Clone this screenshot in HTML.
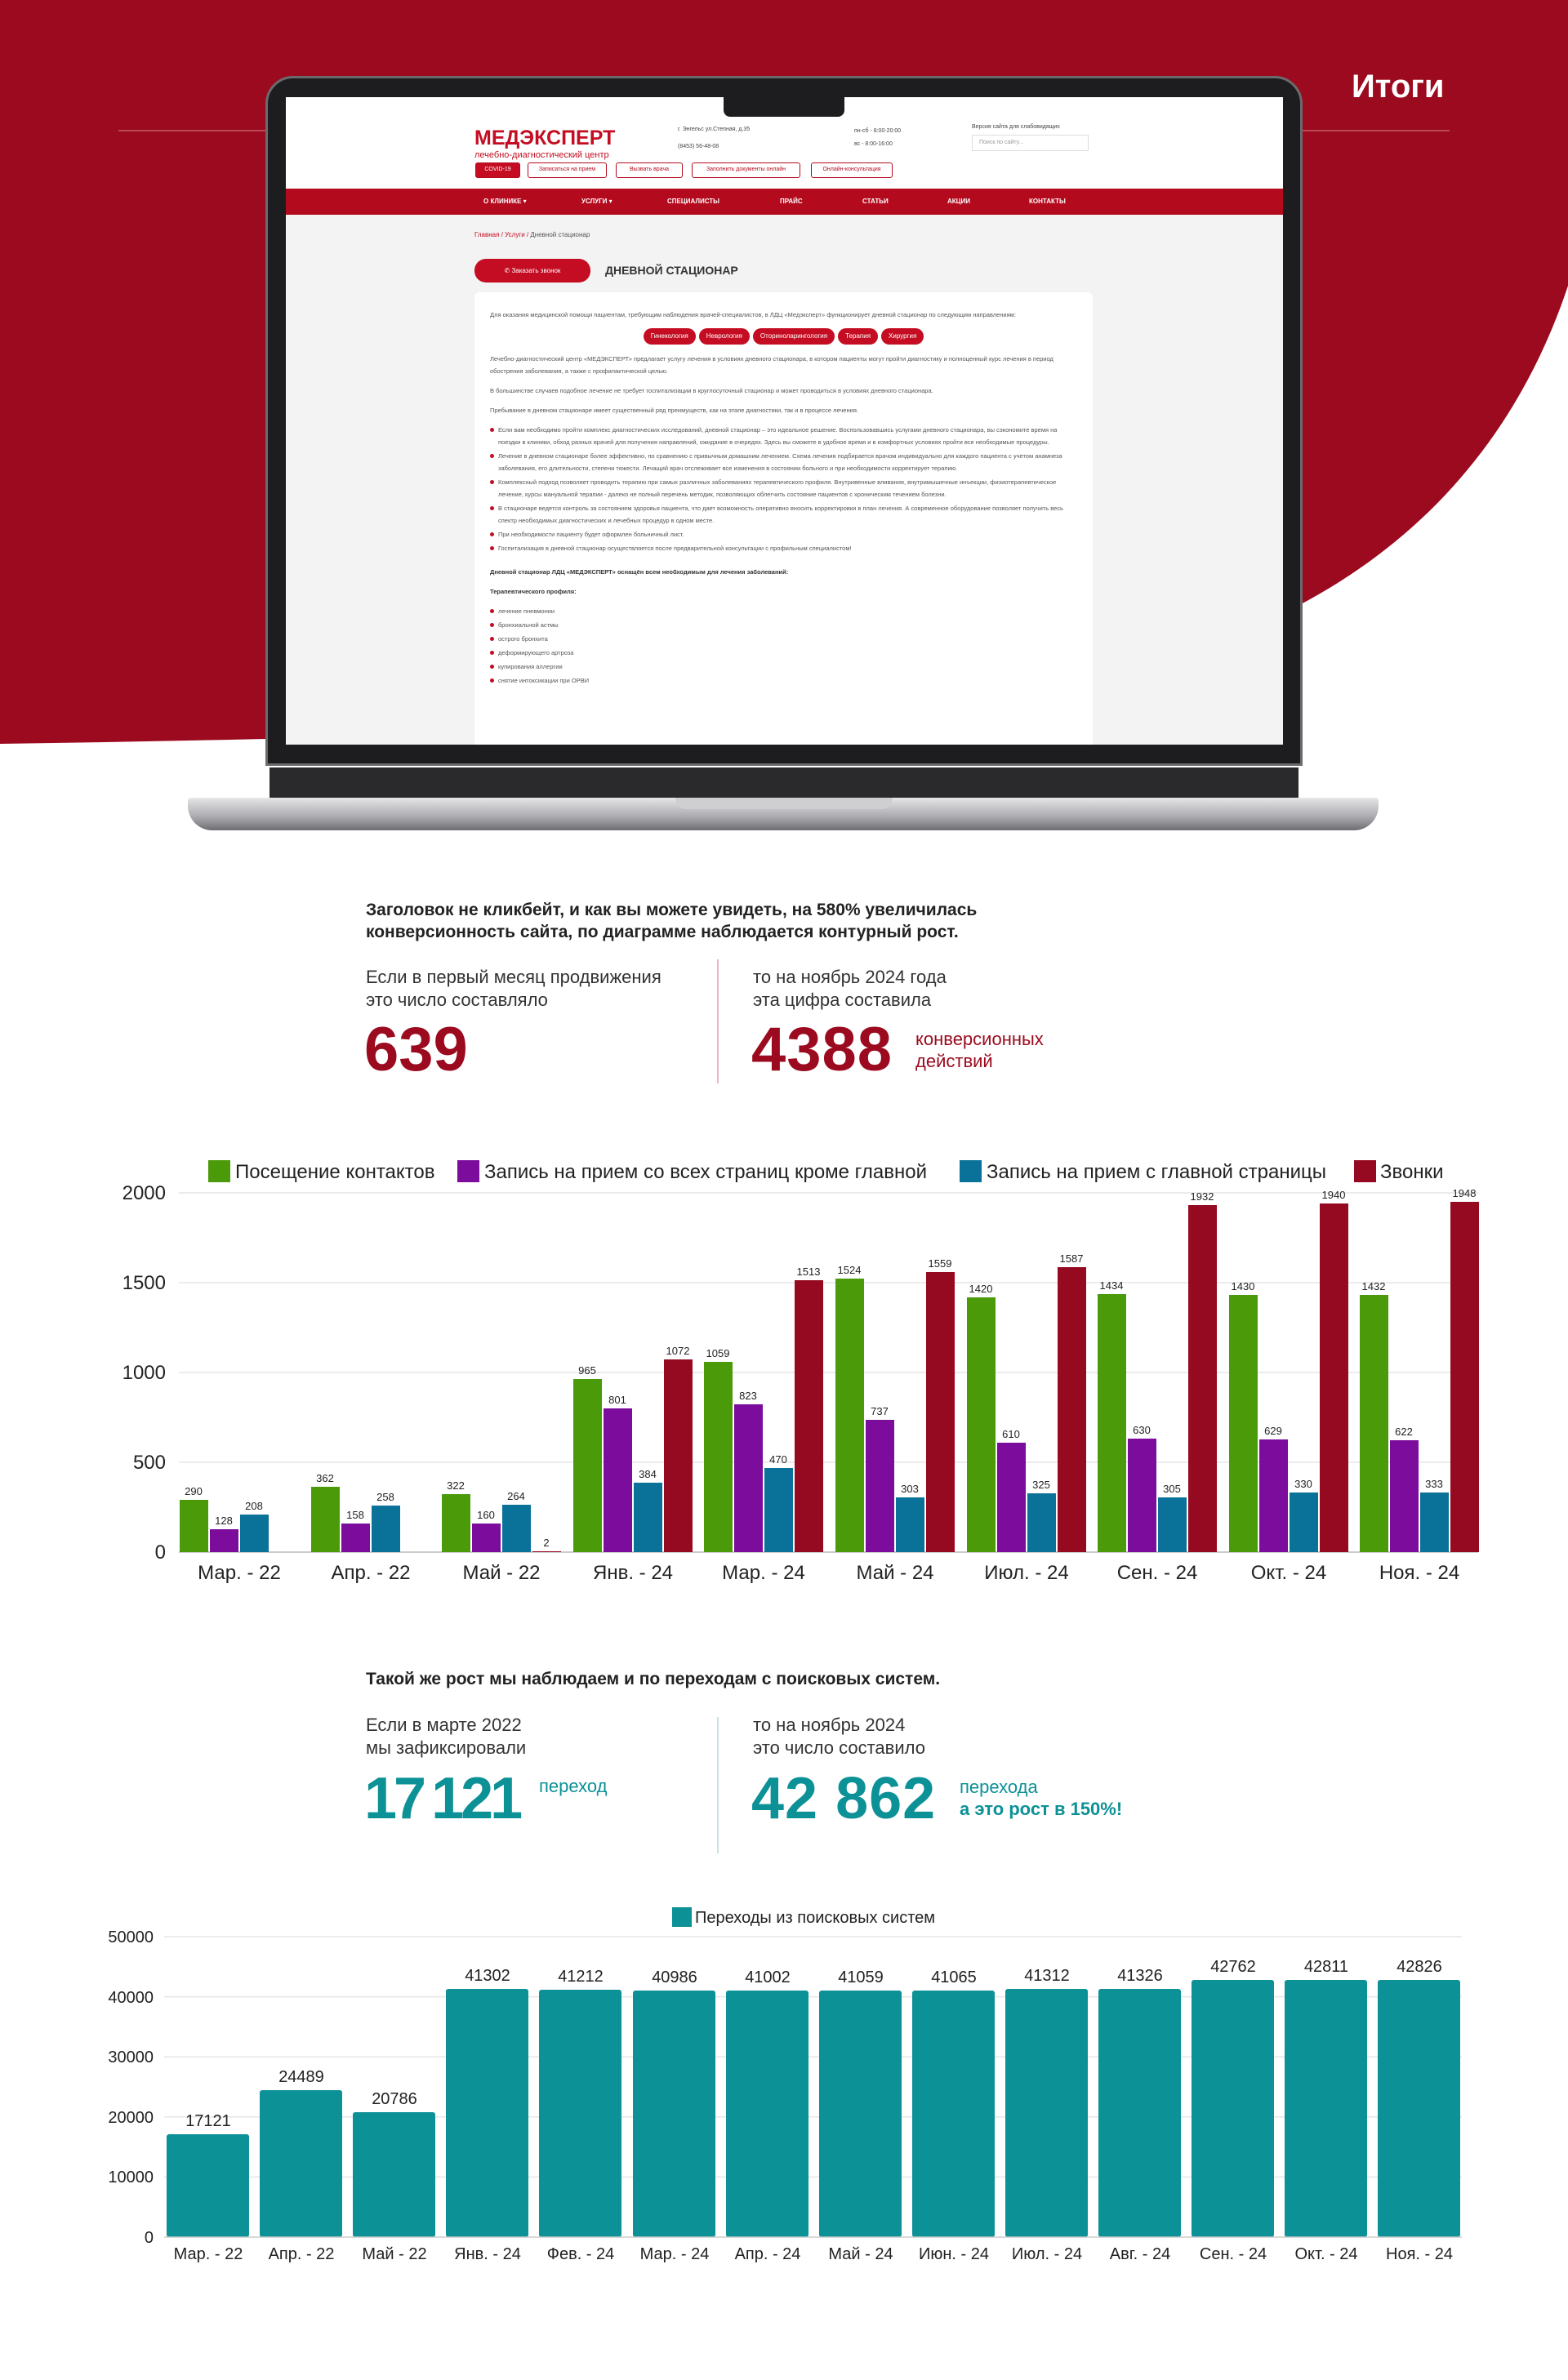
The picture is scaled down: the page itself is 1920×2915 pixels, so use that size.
<!DOCTYPE html>
<html><head><meta charset="utf-8"><style>
*{margin:0;padding:0;box-sizing:border-box}
body{width:1920px;height:2915px;position:relative;background:#fff;font-family:"Liberation Sans","DejaVu Sans",sans-serif;overflow:hidden}
.a{position:absolute;white-space:nowrap}
.scr{position:absolute;left:350px;top:119px;width:1221px;height:793px;background:#f3f3f3;overflow:hidden}
.scr .a{font-size:8px;color:#444}
.btn{position:absolute;border:1.5px solid #b40a1e;border-radius:3px;color:#b40a1e;font-size:7px;text-align:center;line-height:16px;height:19px;background:#fff}
.chip{display:inline-block;background:#c40d22;color:#fff;border-radius:10px;padding:0 9px;height:20px;line-height:20px;font-size:8px;margin:0 2px}
.card p{font-size:7.5px;color:#555;line-height:15px;margin-bottom:9px}
.card li{font-size:7.5px;color:#555;line-height:15px;list-style:none;position:relative;padding-left:10px;margin-bottom:2px}
.card li:before{content:"";position:absolute;left:0;top:5px;width:5px;height:5px;border-radius:50%;background:#c40d22}
.h{font-size:22px;color:#333}
</style></head><body>
<svg class="a" style="left:0;top:0" width="1920" height="960"><path d="M0,0H1920V350C1850,560 1700,720 1450,800C1200,870 800,900 0,911Z" fill="#9b0a1e"/><line x1="145" y1="160" x2="1775" y2="160" stroke="#c85a68" stroke-width="1.5"/></svg>
<div class="a" style="left:1655px;top:84px;font-size:40px;font-weight:bold;color:#fff">Итоги</div>

<!-- laptop -->
<div class="a" style="left:325px;top:93px;width:1270px;height:845px;background:#1d1d1f;border-radius:34px 34px 0 0;border:3px solid #6b6b6e"></div>
<div class="a" style="left:230px;top:977px;width:1458px;height:40px;background:linear-gradient(#e6e6e8,#a9a9ad 60%,#6e6e72);border-radius:4px 4px 30px 30px"></div>
<div class="a" style="left:827px;top:977px;width:266px;height:14px;background:#cfcfd2;border-radius:0 0 14px 14px"></div>
<div class="a" style="left:330px;top:940px;width:1260px;height:37px;background:#2a2a2c"></div>
<div class="scr">
 <div class="a" style="left:0;top:0;width:1221px;height:112px;background:#fff"></div>
 <div class="a" style="left:231px;top:36px;font-size:25px;font-weight:bold;color:#c40d22">МЕДЭКСПЕРТ</div>
 <div class="a" style="left:231px;top:65px;font-size:11px;color:#c40d22">лечебно-диагностический центр</div>
 <div class="a" style="left:480px;top:36px;font-size:7px">г. Энгельс ул.Степная, д.35</div>
 <div class="a" style="left:480px;top:57px;font-size:7px">(8453) 56-48-08</div>
 <div class="a" style="left:696px;top:38px;font-size:7px">пн-сб - 8:00-20:00</div>
 <div class="a" style="left:696px;top:54px;font-size:7px">вс - 8:00-16:00</div>
 <div class="a" style="left:840px;top:33px;font-size:7px">Версия сайта для слабовидящих</div>
 <div class="a" style="left:840px;top:46px;width:143px;height:20px;border:1px solid #ddd;font-size:7px;color:#999;padding:5px 8px">Поиск по сайту...</div>
 <div class="btn" style="left:232px;top:80px;width:55px;background:#c40d22;color:#fff">COVID-19</div>
 <div class="btn" style="left:296px;top:80px;width:97px">Записаться на прием</div>
 <div class="btn" style="left:404px;top:80px;width:82px">Вызвать врача</div>
 <div class="btn" style="left:497px;top:80px;width:133px">Заполнить документы онлайн</div>
 <div class="btn" style="left:643px;top:80px;width:100px">Онлайн-консультация</div>
 <div class="a" style="left:0;top:112px;width:1221px;height:32px;background:#b40a1e"></div>
 <div class="a" style="left:0;top:123px;width:1221px;height:12px">
  <span class="a" style="left:242px;color:#fff;font-weight:bold;font-size:8px">О КЛИНИКЕ ▾</span><span class="a" style="left:362px;color:#fff;font-weight:bold;font-size:8px">УСЛУГИ ▾</span><span class="a" style="left:467px;color:#fff;font-weight:bold;font-size:8px">СПЕЦИАЛИСТЫ</span><span class="a" style="left:605px;color:#fff;font-weight:bold;font-size:8px">ПРАЙС</span><span class="a" style="left:706px;color:#fff;font-weight:bold;font-size:8px">СТАТЬИ</span><span class="a" style="left:810px;color:#fff;font-weight:bold;font-size:8px">АКЦИИ</span><span class="a" style="left:910px;color:#fff;font-weight:bold;font-size:8px">КОНТАКТЫ</span></div>
 <div class="a" style="left:231px;top:164px;font-size:8px;color:#c40d22">Главная / Услуги / <span style="color:#555">Дневной стационар</span></div>
 <div class="a" style="left:231px;top:198px;width:142px;height:29px;background:#c40d22;border-radius:14px;color:#fff;font-size:8px;line-height:29px;text-align:center">✆ Заказать звонок</div>
 <div class="a" style="left:391px;top:204px;font-size:14px;font-weight:bold;color:#333">ДНЕВНОЙ СТАЦИОНАР</div>
 <div class="a card" style="left:231px;top:239px;width:757px;height:600px;background:#fff;border-radius:6px;padding:20px 19px;white-space:normal">
  <p>Для оказания медицинской помощи пациентам, требующим наблюдения врачей-специалистов, в ЛДЦ «Медэксперт» функционирует дневной стационар по следующим направлениям:</p>
  <div style="text-align:center;margin-bottom:10px"><span class="chip">Гинекология</span><span class="chip">Неврология</span><span class="chip">Оториноларингология</span><span class="chip">Терапия</span><span class="chip">Хирургия</span></div>
  <p>Лечебно-диагностический центр «МЕДЭКСПЕРТ» предлагает услугу лечения в условиях дневного стационара, в котором пациенты могут пройти диагностику и полноценный курс лечения в период обострения заболевания, а также с профилактической целью.</p>
  <p>В большинстве случаев подобное лечение не требует госпитализации в круглосуточный стационар и может проводиться в условиях дневного стационара.</p>
  <p>Пребывание в дневном стационаре имеет существенный ряд преимуществ, как на этапе диагностики, так и в процессе лечения.</p>
  <ul>
  <li>Если вам необходимо пройти комплекс диагностических исследований, дневной стационар – это идеальное решение. Воспользовавшись услугами дневного стационара, вы сэкономите время на поездки в клиники, обход разных врачей для получения направлений, ожидание в очередях. Здесь вы сможете в удобное время и в комфортных условиях пройти все необходимые процедуры.</li>
  <li>Лечение в дневном стационаре более эффективно, по сравнению с привычным домашним лечением. Схема лечения подбирается врачом индивидуально для каждого пациента с учетом анамнеза заболевания, его длительности, степени тяжести. Лечащий врач отслеживает все изменения в состоянии больного и при необходимости корректирует терапию.</li>
  <li>Комплексный подход позволяет проводить терапию при самых различных заболеваниях терапевтического профиля. Внутривенные вливания, внутримышечные инъекции, физиотерапевтическое лечение, курсы мануальной терапии - далеко не полный перечень методик, позволяющих облегчить состояние пациентов с хроническим течением болезни.</li>
  <li>В стационаре ведется контроль за состоянием здоровья пациента, что дает возможность оперативно вносить корректировки в план лечения. А современное оборудование позволяет получить весь спектр необходимых диагностических и лечебных процедур в одном месте.</li>
  <li>При необходимости пациенту будет оформлен больничный лист.</li>
  <li>Госпитализация в дневной стационар осуществляется после предварительной консультации с профильным специалистом!</li>
  </ul>
  <p style="font-weight:bold;color:#333;margin-top:14px">Дневной стационар ЛДЦ «МЕДЭКСПЕРТ» оснащён всем необходимым для лечения заболеваний:</p>
  <p style="font-weight:bold;color:#333">Терапевтического профиля:</p>
  <ul><li>лечение пневмонии</li><li>бронхиальной астмы</li><li>острого бронхита</li><li>деформирующего артроза</li><li>купирования аллергии</li><li>снятие интоксикации при ОРВИ</li></ul>
 </div>
</div>
<div class="a" style="left:886px;top:119px;width:148px;height:24px;background:#1d1d1f;border-radius:0 0 8px 8px"></div>

<!-- section 2 -->
<div class="a" style="left:448px;top:1101px;font-size:21px;font-weight:bold;color:#222;line-height:27px">Заголовок не кликбейт, и как вы можете увидеть, на 580% увеличилась<br>конверсионность сайта, по диаграмме наблюдается контурный рост.</div>
<div class="a h" style="left:448px;top:1183px;line-height:28px">Если в первый месяц продвижения<br>это число составляло</div>
<div class="a" style="left:446px;top:1243px;font-size:76px;font-weight:bold;color:#9b0a1e;line-height:86px">639</div>
<div class="a" style="left:878px;top:1175px;width:2px;height:152px;background:#eab9c0"></div>
<div class="a h" style="left:922px;top:1183px;line-height:28px">то на ноябрь 2024 года<br>эта цифра составила</div>
<div class="a" style="left:920px;top:1243px;font-size:76px;font-weight:bold;color:#9b0a1e;line-height:86px;letter-spacing:1px">4388</div>
<div class="a" style="left:1121px;top:1259px;font-size:22px;color:#9b0a1e;line-height:27px">конверсионных<br>действий</div>

<!-- section 3 -->
<div class="a" style="left:448px;top:2045px;font-size:21px;font-weight:bold;color:#222">Такой же рост мы наблюдаем и по переходам с поисковых систем.</div>
<div class="a h" style="left:448px;top:2099px;line-height:28px">Если в марте 2022<br>мы зафиксировали</div>
<div class="a" style="left:446px;top:2160px;font-size:72px;font-weight:bold;color:#0c9196;line-height:86px;letter-spacing:-4px;word-spacing:-6px">17 121</div>
<div class="a" style="left:660px;top:2175px;font-size:22px;color:#0c9196">переход</div>
<div class="a" style="left:878px;top:2103px;width:2px;height:167px;background:#c9e3e5"></div>
<div class="a h" style="left:922px;top:2099px;line-height:28px">то на ноябрь 2024<br>это число составило</div>
<div class="a" style="left:920px;top:2160px;font-size:72px;font-weight:bold;color:#0c9196;line-height:86px;letter-spacing:1px">42 862</div>
<div class="a" style="left:1175px;top:2175px;font-size:22px;color:#0c9196;line-height:27px">перехода<br><b>а это рост в 150%!</b></div>

<!-- charts -->
<svg class="a" style="left:0;top:0" width="1920" height="2915" font-family="Liberation Sans, sans-serif">
<g stroke="#e6e6e6" stroke-width="1.5"><line x1="219" x2="1810" y1="1461" y2="1461"/><line x1="219" x2="1810" y1="1571" y2="1571"/><line x1="219" x2="1810" y1="1681" y2="1681"/><line x1="219" x2="1810" y1="1791" y2="1791"/></g>
<line x1="219" x2="1810" y1="1901" y2="1901" stroke="#bbb" stroke-width="1.5"/>
<g font-size="24" fill="#222" text-anchor="end"><text x="203" y="1469">2000</text><text x="203" y="1579">1500</text><text x="203" y="1689">1000</text><text x="203" y="1799">500</text><text x="203" y="1909">0</text></g>
<g font-size="24" fill="#222"><rect x="255" y="1421" width="27" height="27" fill="#4a9a0a"/><text x="288" y="1443">Посещение контактов</text><rect x="560" y="1421" width="27" height="27" fill="#7b0c9c"/><text x="593" y="1443">Запись на прием со всех страниц кроме главной</text><rect x="1175" y="1421" width="27" height="27" fill="#0a7199"/><text x="1208" y="1443">Запись на прием с главной страницы</text><rect x="1658" y="1421" width="27" height="27" fill="#960a21"/><text x="1690" y="1443">Звонки</text></g>
<g fill="#4a9a0a"><rect x="220" y="1837" width="35" height="64"/><rect x="381" y="1821" width="35" height="80"/><rect x="541" y="1830" width="35" height="71"/><rect x="702" y="1689" width="35" height="212"/><rect x="862" y="1668" width="35" height="233"/><rect x="1023" y="1566" width="35" height="335"/><rect x="1184" y="1589" width="35" height="312"/><rect x="1344" y="1585" width="35" height="316"/><rect x="1505" y="1586" width="35" height="315"/><rect x="1665" y="1586" width="35" height="315"/></g>
<g fill="#7b0c9c"><rect x="257" y="1873" width="35" height="28"/><rect x="418" y="1866" width="35" height="35"/><rect x="578" y="1866" width="35" height="35"/><rect x="739" y="1725" width="35" height="176"/><rect x="899" y="1720" width="35" height="181"/><rect x="1060" y="1739" width="35" height="162"/><rect x="1221" y="1767" width="35" height="134"/><rect x="1381" y="1762" width="35" height="139"/><rect x="1542" y="1763" width="35" height="138"/><rect x="1702" y="1764" width="35" height="137"/></g>
<g fill="#0a7199"><rect x="294" y="1855" width="35" height="46"/><rect x="455" y="1844" width="35" height="57"/><rect x="615" y="1843" width="35" height="58"/><rect x="776" y="1816" width="35" height="85"/><rect x="936" y="1798" width="35" height="103"/><rect x="1097" y="1834" width="35" height="67"/><rect x="1258" y="1829" width="35" height="72"/><rect x="1418" y="1834" width="35" height="67"/><rect x="1579" y="1828" width="35" height="73"/><rect x="1739" y="1828" width="35" height="73"/></g>
<g fill="#960a21"><rect x="652" y="1900" width="35" height="1"/><rect x="813" y="1665" width="35" height="236"/><rect x="973" y="1568" width="35" height="333"/><rect x="1134" y="1558" width="35" height="343"/><rect x="1295" y="1552" width="35" height="349"/><rect x="1455" y="1476" width="35" height="425"/><rect x="1616" y="1474" width="35" height="427"/><rect x="1776" y="1472" width="35" height="429"/></g>
<g font-size="13" fill="#222" text-anchor="middle">
<text x="237" y="1831">290</text><text x="398" y="1815">362</text><text x="558" y="1824">322</text><text x="719" y="1683">965</text><text x="879" y="1662">1059</text><text x="1040" y="1560">1524</text><text x="1201" y="1583">1420</text><text x="1361" y="1579">1434</text><text x="1522" y="1580">1430</text><text x="1682" y="1580">1432</text>
<text x="274" y="1867">128</text><text x="435" y="1860">158</text><text x="595" y="1860">160</text><text x="756" y="1719">801</text><text x="916" y="1714">823</text><text x="1077" y="1733">737</text><text x="1238" y="1761">610</text><text x="1398" y="1756">630</text><text x="1559" y="1757">629</text><text x="1719" y="1758">622</text>
<text x="311" y="1849">208</text><text x="472" y="1838">258</text><text x="632" y="1837">264</text><text x="793" y="1810">384</text><text x="953" y="1792">470</text><text x="1114" y="1828">303</text><text x="1275" y="1823">325</text><text x="1435" y="1828">305</text><text x="1596" y="1822">330</text><text x="1756" y="1822">333</text>
<text x="669" y="1894">2</text><text x="830" y="1659">1072</text><text x="990" y="1562">1513</text><text x="1151" y="1552">1559</text><text x="1312" y="1546">1587</text><text x="1472" y="1470">1932</text><text x="1633" y="1468">1940</text><text x="1793" y="1466">1948</text></g>
<g font-size="24" fill="#222" text-anchor="middle"><text x="293" y="1934">Мар. - 22</text><text x="454" y="1934">Апр. - 22</text><text x="614" y="1934">Май - 22</text><text x="775" y="1934">Янв. - 24</text><text x="935" y="1934">Мар. - 24</text><text x="1096" y="1934">Май - 24</text><text x="1257" y="1934">Июл. - 24</text><text x="1417" y="1934">Сен. - 24</text><text x="1578" y="1934">Окт. - 24</text><text x="1738" y="1934">Ноя. - 24</text></g>

<g stroke="#e6e6e6" stroke-width="1.5"><line x1="201" x2="1790" y1="2372" y2="2372"/><line x1="201" x2="1790" y1="2445.6" y2="2445.6"/><line x1="201" x2="1790" y1="2519.2" y2="2519.2"/><line x1="201" x2="1790" y1="2592.8" y2="2592.8"/><line x1="201" x2="1790" y1="2666.4" y2="2666.4"/></g>
<g font-size="20" fill="#222" text-anchor="end"><text x="188" y="2379">50000</text><text x="188" y="2453">40000</text><text x="188" y="2526">30000</text><text x="188" y="2600">20000</text><text x="188" y="2673">10000</text><text x="188" y="2747">0</text></g>
<rect x="823" y="2336" width="24" height="24" fill="#0c9196"/><text x="851" y="2355" font-size="20" fill="#222">Переходы из поисковых систем</text>
<g fill="#0c9196"><rect x="204" y="2614" width="101" height="126" rx="3"/><rect x="318" y="2560" width="101" height="180" rx="3"/><rect x="432" y="2587" width="101" height="153" rx="3"/><rect x="546" y="2436" width="101" height="304" rx="3"/><rect x="660" y="2437" width="101" height="303" rx="3"/><rect x="775" y="2438" width="101" height="302" rx="3"/><rect x="889" y="2438" width="101" height="302" rx="3"/><rect x="1003" y="2438" width="101" height="302" rx="3"/><rect x="1117" y="2438" width="101" height="302" rx="3"/><rect x="1231" y="2436" width="101" height="304" rx="3"/><rect x="1345" y="2436" width="101" height="304" rx="3"/><rect x="1459" y="2425" width="101" height="315" rx="3"/><rect x="1573" y="2425" width="101" height="315" rx="3"/><rect x="1687" y="2425" width="101" height="315" rx="3"/></g>
<line x1="201" x2="1790" y1="2740" y2="2740" stroke="#ccc" stroke-width="1.5"/>
<g font-size="20" fill="#222" text-anchor="middle"><text x="255" y="2604">17121</text><text x="369" y="2550">24489</text><text x="483" y="2577">20786</text><text x="597" y="2426">41302</text><text x="711" y="2427">41212</text><text x="826" y="2428">40986</text><text x="940" y="2428">41002</text><text x="1054" y="2428">41059</text><text x="1168" y="2428">41065</text><text x="1282" y="2426">41312</text><text x="1396" y="2426">41326</text><text x="1510" y="2415">42762</text><text x="1624" y="2415">42811</text><text x="1738" y="2415">42826</text></g>
<g font-size="20" fill="#222" text-anchor="middle"><text x="255" y="2767">Мар. - 22</text><text x="369" y="2767">Апр. - 22</text><text x="483" y="2767">Май - 22</text><text x="597" y="2767">Янв. - 24</text><text x="711" y="2767">Фев. - 24</text><text x="826" y="2767">Мар. - 24</text><text x="940" y="2767">Апр. - 24</text><text x="1054" y="2767">Май - 24</text><text x="1168" y="2767">Июн. - 24</text><text x="1282" y="2767">Июл. - 24</text><text x="1396" y="2767">Авг. - 24</text><text x="1510" y="2767">Сен. - 24</text><text x="1624" y="2767">Окт. - 24</text><text x="1738" y="2767">Ноя. - 24</text></g>
</svg>
</body></html>
